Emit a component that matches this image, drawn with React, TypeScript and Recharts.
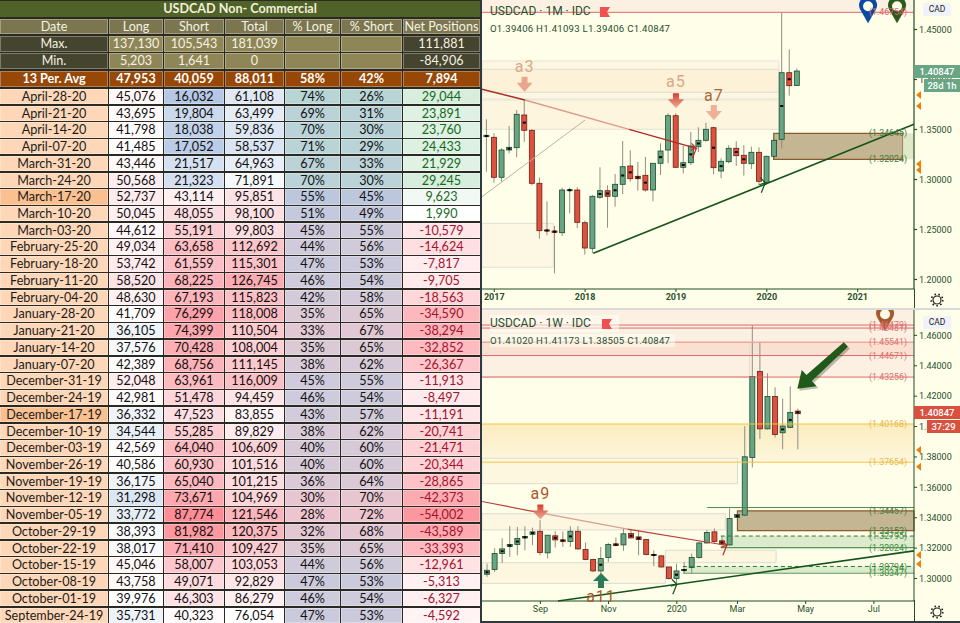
import React from 'react';
import { ComposedChart, Bar, XAxis, YAxis, ReferenceLine, ReferenceArea, ReferenceDot } from 'recharts';

// ---- COT table
const dates = ['April-28-20','April-21-20','April-14-20','April-07-20','March-31-20','March-24-20','March-17-20','March-10-20','March-03-20','February-25-20','February-18-20','February-11-20','February-04-20','January-28-20','January-21-20','January-14-20','January-07-20','December-31-19','December-24-19','December-17-19','December-10-19','December-03-19','November-26-19','November-19-19','November-12-19','November-05-19','October-29-19','October-22-19','October-15-19','October-08-19','October-01-19','September-24-19'];
const longs = [45076,43695,41798,41485,43446,50568,52737,50045,44612,49034,53742,58520,48630,41709,36105,37576,42389,52048,42981,36332,34544,42569,40586,36175,31298,33772,38393,38017,45046,43758,39976,35731];
const shorts = [16032,19804,18038,17052,21517,21323,43114,48055,55191,63658,61559,68225,67193,76299,74399,70428,68756,63961,51478,47523,55285,64040,60930,65040,73671,87774,81982,71410,58007,49071,46303,40323];
const totals = [61108,63499,59836,58537,64963,71891,95851,98100,99803,112692,115301,126745,115823,118008,110504,108004,111145,116009,94459,83855,89829,106609,101516,101215,104969,121546,120375,109427,103053,92829,86279,76054];
const pctLong = [74,69,70,71,67,70,55,51,45,44,47,46,42,35,33,35,38,45,46,43,38,40,40,36,30,28,32,35,44,47,46,47];
const pctShort = [26,31,30,29,33,30,45,49,55,56,53,54,58,65,67,65,62,55,54,57,62,60,60,64,70,72,68,65,56,53,54,53];
const netPositions = [29044,23891,23760,24433,21929,29245,9623,1990,-10579,-14624,-7817,-9705,-18563,-34590,-38294,-32852,-26367,-11913,-8497,-11191,-20741,-21471,-20344,-28865,-42373,-54002,-43589,-33393,-12961,-5313,-6327,-4592];
const headers = ['Date','Long','Short','Total','% Long','% Short','Net Positions'];
const maxRow = ['Max.','137,130','105,543','181,039','','','111,881'];
const minRow = ['Min.','5,203','1,641','0','','','-84,906'];
const avgRow = ['13 Per. Avg','47,953','40,059','88,011','58%','42%','7,894'];
const highlightedDates = ['March-17-20','December-17-19'];

// ---- monthly candles
const t1M = [-1,0,1,2,3,4,5,6,7,8,9,10,11,12,13,14,15,16,17,18,19,20,21,22,23,24,25,26,27,28,29,30,31,32,33,34,35,36,37,38,39,40];
const open1M = [1.3428,1.3422,1.3022,1.3295,1.3318,1.3645,1.3492,1.2962,1.2495,1.2485,1.2468,1.2888,1.2895,1.2568,1.2312,1.2822,1.2888,1.2832,1.2952,1.3135,1.3032,1.3042,1.2895,1.3162,1.3295,1.3638,1.3122,1.3168,1.3328,1.3392,1.3518,1.3085,1.3178,1.3312,1.3242,1.3158,1.3272,1.2972,1.3232,1.3402,1.4068,1.39406];
const high1M = [1.3602,1.3462,1.3312,1.3535,1.3695,1.3795,1.3502,1.3018,1.2782,1.2535,1.2918,1.2918,1.2922,1.2588,1.2845,1.3122,1.2942,1.3055,1.3385,1.3292,1.3175,1.3225,1.3162,1.3362,1.3662,1.3662,1.3335,1.3475,1.3522,1.3568,1.3528,1.3212,1.3342,1.3382,1.3345,1.3328,1.3322,1.3238,1.3462,1.4668,1.4302,1.41093];
const low1M = [1.3078,1.2968,1.2978,1.3262,1.3222,1.3378,1.2942,1.2408,1.2442,1.2062,1.2435,1.2662,1.2515,1.2248,1.2262,1.2808,1.2518,1.2728,1.2855,1.2978,1.2888,1.2878,1.2782,1.3045,1.3162,1.3122,1.3062,1.3145,1.3275,1.3378,1.3052,1.3012,1.3162,1.3135,1.3038,1.3105,1.2945,1.2945,1.3228,1.3308,1.3838,1.39406];
const close1M = [1.3442,1.3022,1.3295,1.3322,1.3652,1.3492,1.2962,1.2488,1.2485,1.2472,1.2895,1.2898,1.2572,1.2315,1.2832,1.2888,1.2832,1.2952,1.3128,1.3008,1.3008,1.2895,1.3162,1.3285,1.3638,1.3122,1.3168,1.3335,1.3392,1.3502,1.3118,1.3182,1.3312,1.3238,1.3162,1.3272,1.2982,1.3232,1.3392,1.4068,1.3938,1.40847];
const dotted1M = [-1,2,4,7,8,10,14,15,16,17,18,19,20,22,25,26,27,29,30,32,33,38,39];
const yearTicks = [0,12,24,36,48];
const yearLabels = ['2017','2018','2019','2020','2021'];
const yTicks1M = [1.2,1.25,1.3,1.35,1.4,1.45];

// ---- weekly candles
const k1W = [0,1,2,3,4,5,6,7,8,9,10,11,12,13,14,15,16,17,18,19,20,21,22,23,24,25,26,27,28,29,30,31,32,33,34,35,36,37,38,39,40,41];
const open1W = [1.3028,1.3059,1.3164,1.3210,1.3224,1.3267,1.3291,1.3311,1.3169,1.3281,1.3254,1.3243,1.3311,1.3191,1.3125,1.3050,1.3138,1.3228,1.3221,1.3296,1.3274,1.3256,1.3158,1.3149,1.3076,1.3000,1.3052,1.3072,1.3138,1.3234,1.3307,1.3248,1.3221,1.3401,1.3417,1.3796,1.4363,1.3985,1.4198,1.3959,1.3994,1.41020];
const high1W = [1.3098,1.3199,1.3265,1.3344,1.3340,1.3344,1.3335,1.3384,1.3285,1.3311,1.3309,1.3344,1.3344,1.3237,1.3131,1.3208,1.3234,1.3270,1.3329,1.3322,1.3318,1.3261,1.3186,1.3153,1.3076,1.3098,1.3109,1.3164,1.3241,1.3318,1.3329,1.3278,1.3461,1.3428,1.4003,1.4668,1.4558,1.4350,1.4258,1.4183,1.4264,1.41173];
const low1W = [1.3011,1.3043,1.3103,1.3142,1.3153,1.3186,1.3219,1.3153,1.3131,1.3204,1.3208,1.3208,1.3186,1.3120,1.3043,1.3032,1.3109,1.3212,1.3182,1.3263,1.3153,1.3153,1.3081,1.3072,1.2993,1.2967,1.3032,1.3032,1.3131,1.3230,1.3234,1.3219,1.3217,1.3401,1.3410,1.3731,1.3919,1.3981,1.3928,1.3851,1.3994,1.38505];
const close1W = [1.3054,1.3164,1.3195,1.3224,1.3263,1.3276,1.3307,1.3171,1.3285,1.3254,1.3245,1.3311,1.3195,1.3125,1.3050,1.3131,1.3224,1.3217,1.3294,1.3267,1.3256,1.3158,1.3151,1.3076,1.3000,1.3050,1.3059,1.3138,1.3234,1.3303,1.3243,1.3226,1.3395,1.3421,1.3801,1.4330,1.3985,1.4198,1.3948,1.4003,1.4093,1.40847];
const dotted1W = [0,2,3,4,5,6,9,10,11,15,17,19,20,22,25,26,31,33,39,40,41];
const weekTicks = [7,16,25,33,42,51];
const weekLabels = ['Sep','Nov','2020','Mar','May','Jul'];
const yTicks1W = [1.3,1.32,1.34,1.36,1.38,1.4,1.42,1.44,1.46];

// shared price levels
const orangeLevels = [1.3845,1.3735,1.3155,1.3095];
const redLevels1W = [1.46679,1.46481,1.45541,1.44671,1.43256];
const yellowLevels1W = [1.40168,1.37654];

const rows1M = t1M.map((t, i) => ({ t, open: open1M[i], close: close1M[i], high: high1M[i], low: low1M[i], range: [low1M[i], high1M[i]], dot: dotted1M.includes(t) }));
const rows1W = k1W.map((t, i) => ({ t, open: open1W[i], close: close1W[i], high: high1W[i], low: low1W[i], range: [low1W[i], high1W[i]], dot: dotted1W.includes(t) }));

const W = 960;
const H = 623;
const BG = '#fffee9';
const AXIS = '#1f4f22';
const TEXT = '#27502f';
const CHART_FONT = 'Roboto, sans-serif';
const TABLE_FONT = 'Lato, sans-serif';

const fmt = (v: number) => v.toLocaleString('en-US');

// excel style colour scale
const hex = (s: string) => [1, 3, 5].map((i) => parseInt(s.slice(i, i + 2), 16));
const scale = (stops: [number, string][], v: number) => {
  if (v <= stops[0][0]) return stops[0][1];
  for (let i = 1; i < stops.length; i++) {
    if (v <= stops[i][0]) {
      const f = (v - stops[i - 1][0]) / (stops[i][0] - stops[i - 1][0]);
      const a = hex(stops[i - 1][1]);
      const b = hex(stops[i][1]);
      return `rgb(${a.map((c, j) => Math.round(c + (b[j] - c) * f)).join(',')})`;
    }
  }
  return stops[stops.length - 1][1];
};
const longScale: [number, string][] = [[31000, '#dae5f3'], [40000, '#ffffff'], [46000, '#fff5f7'], [60000, '#fde0e4']];
const shortScale: [number, string][] = [[16000, '#b4c7e5'], [22000, '#d8e3f2'], [39000, '#ffffff'], [48000, '#fddde1'], [65000, '#fdb8bf'], [88000, '#fe8c94']];
const totalScale: [number, string][] = [[58000, '#d9e3f2'], [76000, '#ffffff'], [100000, '#fddde1'], [127000, '#fcaab1']];
const pctScale: [number, string][] = [[28, '#ecc5d0'], [35, '#dcc9d6'], [45, '#cfcbdc'], [55, '#bcc7de'], [67, '#bbd2d9'], [74, '#b8d5d6']];
const netScale: [number, string][] = [[-54000, '#fb989f'], [-30000, '#fdc0c5'], [-4500, '#fff3f4'], [2000, '#ffffff'], [10000, '#f1f9f3'], [29000, '#d7eedd']];

const colX = [0, 108, 163, 224, 284, 340, 402, 480];
const rowH = 16.73;
const rowTop = 87.9;

const Cell = ({ c, top, h, bg, color, bold, children }: any) => (
  <div style={{
    position: 'absolute', left: colX[c] + (c ? 1 : 0), top: top + 1, width: colX[c + 1] - colX[c] - (c ? 1 : 0), height: h - 1.4,
    background: bg, color, fontWeight: bold ? 700 : 400, textAlign: 'center', lineHeight: `${h - 1.4}px`,
    boxShadow: 'inset 0 0 0 1px rgba(255,255,255,0.3)', whiteSpace: 'nowrap', overflow: 'hidden',
  }}>{children}</div>
);

const Table = () => (
  <div style={{ position: 'absolute', left: 0, top: 0, width: 480, height: H, background: '#2a2a22', fontFamily: TABLE_FONT, fontSize: 12.6 }}>
    <div style={{ position: 'absolute', left: 0, top: 1, width: 480, height: 16, lineHeight: '16px', background: '#4f6228', color: '#f3efd8', fontWeight: 700, textAlign: 'center' }}>USDCAD Non- Commercial</div>
    {headers.map((s, c) => <Cell key={c} c={c} top={17.5} h={17} bg="#7b7650" color="#f5f2e0">{s}</Cell>)}
    {maxRow.map((s, c) => <Cell key={c} c={c} top={35} h={17.4} bg={c === 0 || c === 6 ? '#45442f' : '#8f8658'} color="#f5f2e0">{s}</Cell>)}
    {minRow.map((s, c) => <Cell key={c} c={c} top={52.4} h={17.4} bg={c === 0 || c === 6 ? '#45442f' : '#8f8658'} color="#f5f2e0">{s}</Cell>)}
    {avgRow.map((s, c) => <Cell key={c} c={c} top={70} h={17.4} bg="#974806" color="#fff" bold>{s}</Cell>)}
    {dates.map((d, i) => {
      const top = rowTop + i * rowH;
      return (
        <React.Fragment key={d}>
          <Cell c={0} top={top} h={rowH} bg={highlightedDates.includes(d) ? '#fbc08f' : '#fdd7b7'} color="#1c1c1c">{d}</Cell>
          <Cell c={1} top={top} h={rowH} bg={scale(longScale, longs[i])} color="#111">{fmt(longs[i])}</Cell>
          <Cell c={2} top={top} h={rowH} bg={scale(shortScale, shorts[i])} color="#111">{fmt(shorts[i])}</Cell>
          <Cell c={3} top={top} h={rowH} bg={scale(totalScale, totals[i])} color="#111">{fmt(totals[i])}</Cell>
          <Cell c={4} top={top} h={rowH} bg={scale(pctScale, pctLong[i])} color="#111">{pctLong[i]}%</Cell>
          <Cell c={5} top={top} h={rowH} bg={scale(pctScale, pctLong[i])} color="#111">{pctShort[i]}%</Cell>
          <Cell c={6} top={top} h={rowH} bg={scale(netScale, netPositions[i])} color={netPositions[i] > 0 ? '#17691f' : '#a3122c'}>{fmt(netPositions[i])}</Cell>
        </React.Fragment>
      );
    })}
  </div>
);

// ---- chart shapes
const candleShape = (p: any) => {
  const { x, y, width, height, payload } = p;
  const cx = x + width / 2;
  const py = (v: number) => y + ((payload.high - v) / (payload.high - payload.low)) * height;
  const up = payload.close >= payload.open;
  const top = py(Math.max(payload.open, payload.close));
  const bot = py(Math.min(payload.open, payload.close));
  return (
    <g>
      <line x1={cx} x2={cx} y1={y} y2={y + height} stroke="#8e8e86" strokeWidth={1} />
      <rect x={x} y={top} width={width} height={Math.max(bot - top, 1)} fill={up ? '#69a585' : '#db5340'} stroke={up ? '#174d2c' : '#6e1d10'} strokeWidth={0.8} />
      {payload.dot && <rect x={cx - 1.5} y={(top + bot) / 2 - 1} width={3} height={2} fill="#000" />}
    </g>
  );
};

const downArrow = (color: string, id?: string) => (p: any) => (
  <polygon points={`${p.cx - 3},${p.cy} ${p.cx + 3},${p.cy} ${p.cx + 3},${p.cy + 6} ${p.cx + 8},${p.cy + 6} ${p.cx},${p.cy + 15} ${p.cx - 8},${p.cy + 6} ${p.cx - 3},${p.cy + 6}`} fill={id ? `url(#${id})` : color} />
);
const upArrow = (color: string) => (p: any) => (
  <polygon points={`${p.cx},${p.cy} ${p.cx + 8},${p.cy + 8} ${p.cx + 3},${p.cy + 8} ${p.cx + 3},${p.cy + 15} ${p.cx - 3},${p.cy + 15} ${p.cx - 3},${p.cy + 8} ${p.cx - 8},${p.cy + 8}`} fill={color} />
);
const tag = (s: string, color: string, size = 16) => (p: any) => (
  <text x={p.cx} y={p.cy} dy="0.35em" textAnchor="middle" fill={color} fontSize={size} fontFamily={CHART_FONT} letterSpacing={1}>{s}</text>
);
const pin = (color: string) => (p: any) => (
  <g>
    <path d={`M${p.cx},${p.cy} L${p.cx - 8},${p.cy - 14} A9,9 0 1 1 ${p.cx + 8},${p.cy - 14} Z`} fill={color} />
    <circle cx={p.cx} cy={p.cy - 17} r={5} fill={BG} />
  </g>
);
const chevron = (color: string) => (p: any) => (
  <path d={`M${p.cx - 5},${p.cy - 5} L${p.cx},${p.cy} L${p.cx - 6},${p.cy + 2} M${p.cx},${p.cy} L${p.cx - 4},${p.cy + 10}`} stroke={color} strokeWidth={1.2} fill="none" />
);
const orangeMark = (p: any) => (
  <polygon points={`${p.cx + 2},${p.cy} ${p.cx + 7},${p.cy - 4} ${p.cx + 7},${p.cy + 4}`} fill="#f07f09" />
);
const bigArrow = (p: any) => {
  const { x: xa, y: ya } = p.x1 !== undefined ? { x: p.x1, y: p.y1 } : { x: 0, y: 0 };
  const dx = p.x2 - xa;
  const dy = p.y2 - ya;
  const len = Math.hypot(dx, dy);
  const ux = dx / len;
  const uy = dy / len;
  const nx = -uy;
  const ny = ux;
  const at = (a: number, b: number) => `${xa + ux * a + nx * b},${ya + uy * a + ny * b}`;
  const pts = [at(0, -3), at(len - 16, -4), at(len - 16, -11), at(len, 0), at(len - 16, 11), at(len - 16, 4), at(0, 3)].join(' ');
  return (
    <g>
      <polygon points={pts} fill="#000" opacity={0.25} transform="translate(2,2)" />
      <polygon points={pts} fill="#1f5a1a" />
    </g>
  );
};

const priceTick = (axis: any) => ({ tick: { fontSize: 9, fontFamily: CHART_FONT, fill: TEXT }, ...axis });

const levelLabel = (value: string, fill: string) => ({ value, position: 'insideRight' as const, fill, fontSize: 8.8, fontFamily: CHART_FONT, offset: 7 });

const Chart1M = () => {
  const tMax = 55.44;
  const tMin = -1.62;
  return (
    <ComposedChart width={478} height={310} data={rows1M} margin={{ top: 0, right: 0, bottom: 0, left: 0 }} barSize={5}>
      <defs>
        <linearGradient id="fade1" x1="0" y1="0" x2="0" y2="1">
          <stop offset="0%" stopColor="#d2402f" />
          <stop offset="100%" stopColor="#f0b098" />
        </linearGradient>
      </defs>
      <XAxis dataKey="t" type="number" domain={[tMin, tMax]} allowDataOverflow ticks={yearTicks} tickFormatter={(v: number) => yearLabels[yearTicks.indexOf(v)]} height={21} stroke={AXIS} tickSize={3} tick={{ fontSize: 9, fontWeight: 700, fontFamily: CHART_FONT, fill: TEXT }} interval={0} />
      <YAxis orientation="right" width={46} domain={[1.1905, 1.4795]} allowDataOverflow type="number" ticks={yTicks1M} tickFormatter={(v: number) => v.toFixed(5)} stroke={AXIS} tickSize={3} strokeWidth={1.2} interval={0} {...priceTick({})} />

      <ReferenceArea y1={1.4672} y2={1.4795} fill="#fbf0e2" fillOpacity={1} stroke="none" />
      <ReferenceArea x2={37.6} y1={1.3805} y2={1.4185} fill="#fdf6e0" fillOpacity={1} stroke="#e5e2d5" />
      <ReferenceArea x2={37.6} y1={1.3872} y2={1.4102} fill="#fdf2d8" fillOpacity={1} stroke="#e0ddd2" />
      <ReferenceArea x2={37.6} y1={1.3502} y2={1.3795} fill="#fdf5dd" fillOpacity={1} stroke="#e5e2d5" />
      <ReferenceArea x2={7.8} y1={1.2122} y2={1.2562} fill="#fdf8e4" fillOpacity={1} stroke="#e3e0d5" />
      <ReferenceArea x1={36.9} x2={54} y1={1.3202} y2={1.3462} fill="#c4b693" fillOpacity={1} stroke="#8b5a2b" strokeWidth={1.2} />
      <ReferenceArea x1={54} x2={tMax} y1={1.3202} y2={1.3462} fill="#dfe8c8" fillOpacity={1} stroke="none" />

      <ReferenceLine y={1.4672} stroke="#dd6a6a" label={levelLabel('(1.46754)', '#e06a6a')} />
      <ReferenceLine y={1.3462} segment={[{ x: 54, y: 1.3462 }, { x: tMax, y: 1.3462 }]} stroke="none" label={levelLabel('(1.34645)', '#3e7a3e')} />
      <ReferenceLine y={1.3202} segment={[{ x: 54, y: 1.3202 }, { x: tMax, y: 1.3202 }]} stroke="none" label={levelLabel('(1.32024)', '#3e7a3e')} />

      <Bar dataKey="range" shape={candleShape} isAnimationActive={false} />

      <ReferenceLine segment={[{ x: tMin, y: 1.2828 }, { x: 12, y: 1.3595 }]} stroke="#b8b4a6" />
      <ReferenceLine segment={[{ x: tMin, y: 1.3902 }, { x: 4.05, y: 1.3795 }]} stroke="#a82a22" strokeWidth={1.4} />
      <ReferenceLine segment={[{ x: 4.05, y: 1.3795 }, { x: 17.8, y: 1.3502 }]} stroke="#e09a8c" strokeWidth={1.4} />
      <ReferenceLine segment={[{ x: 17.8, y: 1.3502 }, { x: 26.7, y: 1.3312 }]} stroke="#b02a22" strokeWidth={1.4} />
      <ReferenceLine segment={[{ x: 13.08, y: 1.2262 }, { x: tMax, y: 1.3552 }]} stroke="#14531a" strokeWidth={1.6} />

      <ReferenceDot x={4} y={1.4135} ifOverflow="visible" shape={tag('a3', '#d8a988')} />
      <ReferenceDot x={4} y={1.4028} ifOverflow="visible" shape={downArrow('#e9a68d')} />
      <ReferenceDot x={24} y={1.3978} ifOverflow="visible" shape={tag('a5', '#d8a988')} />
      <ReferenceDot x={24} y={1.3862} ifOverflow="visible" shape={downArrow('#d2402f', 'fade1')} />
      <ReferenceDot x={29} y={1.3845} ifOverflow="visible" shape={tag('a7', '#a86a3a')} />
      <ReferenceDot x={29} y={1.3745} ifOverflow="visible" shape={downArrow('#eeb096')} />
      <ReferenceDot x={26.7} y={1.3312} ifOverflow="visible" shape={chevron('#c02a2a')} />
      <ReferenceDot x={35.8} y={1.2968} ifOverflow="visible" shape={chevron('#14531a')} />
      <ReferenceDot x={49.37} y={1.4562} ifOverflow="visible" shape={pin('#0b4aa2')} />
      <ReferenceDot x={53.2} y={1.4562} ifOverflow="visible" shape={pin('#2a5a1c')} />
      {orangeLevels.map((v) => <ReferenceDot key={v} x={tMax} y={v} ifOverflow="visible" shape={orangeMark} />)}
    </ComposedChart>
  );
};

const Chart1W = () => {
  const kMax = 56.29;
  const kMin = -0.7;
  return (
    <ComposedChart width={478} height={313} data={rows1W} margin={{ top: 0, right: 0, bottom: 0, left: 0 }} barSize={5}>
      <defs>
        <linearGradient id="fade2" x1="0" y1="0" x2="0" y2="1">
          <stop offset="0%" stopColor="#d2402f" />
          <stop offset="100%" stopColor="#f0b098" />
        </linearGradient>
        <linearGradient id="yellowZone" x1="0" y1="0" x2="0" y2="1">
          <stop offset="0%" stopColor="#fcecc0" />
          <stop offset="100%" stopColor="#fdf7dc" />
        </linearGradient>
      </defs>
      <XAxis dataKey="t" type="number" domain={[kMin, kMax]} allowDataOverflow ticks={weekTicks} tickFormatter={(v: number) => weekLabels[weekTicks.indexOf(v)]} height={22} stroke={AXIS} tickSize={3} tick={{ fontSize: 9, fontFamily: CHART_FONT, fill: TEXT }} interval={0} />
      <YAxis orientation="right" width={46} domain={[1.2852, 1.4767]} allowDataOverflow type="number" ticks={yTicks1W} tickFormatter={(v: number) => v.toFixed(5)} stroke={AXIS} tickSize={3} interval={0} {...priceTick({})} />

      <ReferenceArea y1={1.4328} y2={1.4767} fill="#fcf0e2" fillOpacity={1} stroke="none" />
      <ReferenceArea y1={1.44671} y2={1.45541} fill="#fae0d0" fillOpacity={1} stroke="none" />
      <ReferenceArea x1={kMin} x2={34.6} y1={1.4328} y2={1.4555} fill="none" stroke="#e8dcd0" />
      <ReferenceArea y1={1.37654} y2={1.40168} fill="url(#yellowZone)" fillOpacity={1} stroke="none" />
      <ReferenceArea x2={33} y1={1.3624} y2={1.3792} fill="#fdf7e0" fillOpacity={1} stroke="#dedbd0" />
      <ReferenceArea x2={31.4} y1={1.3320} y2={1.3426} fill="#fdf6e0" fillOpacity={1} stroke="#dedbd0" />
      <ReferenceArea x1={kMin} x2={23.5} y1={1.2968} y2={1.3104} fill="#fdf7e0" fillOpacity={1} stroke="#dedbd0" />
      <ReferenceArea x1={23.5} x2={38.1} y1={1.3104} y2={1.3186} fill="#fdf7e0" fillOpacity={1} stroke="#dedbd0" />
      <ReferenceArea x1={33} x2={kMax} y1={1.33153} y2={1.34457} fill="#c4b693" fillOpacity={1} stroke="#8b5a2b" strokeWidth={1.2} />
      <ReferenceArea x1={30.8} x2={kMax} y1={1.32024} y2={1.32795} fill="#dcebcb" fillOpacity={1} stroke="none" />
      <ReferenceArea x1={25.8} x2={kMax} y1={1.30347} y2={1.30794} fill="#dcebcb" fillOpacity={1} stroke="none" />

      {redLevels1W.map((v, i) => <ReferenceLine key={v} y={v} stroke={i === 2 ? '#eda9a0' : '#d96a6a'} strokeWidth={i === 2 ? 1.5 : 1} label={levelLabel(`(${v === 1.46679 ? '1.46479' : v.toFixed(5)})`, '#dc7070')} />)}
      {yellowLevels1W.map((v) => <ReferenceLine key={v} y={v} stroke="#f5c443" label={levelLabel(`(${v.toFixed(5)})`, '#e8b84f')} />)}
      <ReferenceLine segment={[{ x: 29, y: 1.3467 }, { x: kMax, y: 1.3467 }]} stroke="#4f8a4f" />
      <ReferenceLine y={1.34457} stroke="none" label={levelLabel('(1.34457)', '#3e7a3e')} />
      <ReferenceLine y={1.33153} stroke="none" label={levelLabel('(1.33153)', '#3e7a3e')} />
      <ReferenceLine segment={[{ x: 30.8, y: 1.32795 }, { x: kMax, y: 1.32795 }]} stroke="#2b7a30" strokeDasharray="4 3" />
      <ReferenceLine y={1.32795} stroke="none" label={levelLabel('(1.32795)', '#3e8a3e')} />
      <ReferenceLine segment={[{ x: 30.8, y: 1.32024 }, { x: kMax, y: 1.32024 }]} stroke="#2b7a30" />
      <ReferenceLine y={1.32024} stroke="none" label={levelLabel('(1.32024)', '#3e8a3e')} />
      <ReferenceLine segment={[{ x: 25.8, y: 1.30794 }, { x: kMax, y: 1.30794 }]} stroke="#2b7a30" strokeDasharray="4 3" />
      <ReferenceLine y={1.30794} stroke="none" label={levelLabel('(1.30794)', '#3e8a3e')} />
      <ReferenceLine segment={[{ x: 25.8, y: 1.30347 }, { x: kMax, y: 1.30347 }]} stroke="#5f9a5f" />
      <ReferenceLine y={1.30347} stroke="none" label={levelLabel('(1.30347)', '#3e8a3e')} />

      <Bar dataKey="range" shape={candleShape} isAnimationActive={false} />

      <ReferenceLine segment={[{ x: kMin, y: 1.3507 }, { x: 7, y: 1.3432 }]} stroke="#b8403a" strokeWidth={1.2} />
      <ReferenceLine segment={[{ x: 7, y: 1.3432 }, { x: 18.5, y: 1.3325 }]} stroke="#d9a090" strokeWidth={1.2} />
      <ReferenceLine segment={[{ x: 18.5, y: 1.3325 }, { x: 31.5, y: 1.3219 }]} stroke="#b8403a" strokeWidth={1.2} />
      <ReferenceLine segment={[{ x: 9.33, y: 1.2852 }, { x: kMax, y: 1.3182 }]} stroke="#14531a" strokeWidth={1.6} />
      <ReferenceLine segment={[{ x: 47.3, y: 1.4540 }, { x: 40.9, y: 1.4248 }]} shape={bigArrow} ifOverflow="visible" />

      <ReferenceDot x={7} y={1.3559} ifOverflow="visible" shape={tag('a9', '#a9582a')} />
      <ReferenceDot x={7} y={1.3487} ifOverflow="visible" shape={downArrow('#d2402f', 'fade2')} />
      <ReferenceDot x={15} y={1.2879} ifOverflow="visible" shape={tag('a11', '#a9582a')} />
      <ReferenceDot x={15} y={1.3037} ifOverflow="visible" shape={upArrow('#2c7a5a')} />
      <ReferenceDot x={25} y={1.2962} ifOverflow="visible" shape={chevron('#14531a')} />
      <ReferenceDot x={31.6} y={1.3219} ifOverflow="visible" shape={chevron('#c02a2a')} />
      <ReferenceDot x={52.47} y={1.4627} ifOverflow="visible" shape={pin('#a35a30')} />
      {orangeLevels.map((v) => <ReferenceDot key={v} x={kMax} y={v} ifOverflow="visible" shape={orangeMark} />)}
    </ComposedChart>
  );
};

const Flag = ({ x, y }: any) => (
  <svg style={{ position: 'absolute', left: x, top: y }} width={10} height={10}>
    <polygon points="0,0 10,0 7,5 10,10 0,10" fill="#f25050" />
  </svg>
);

const Gear = ({ y }: any) => (
  <svg style={{ position: 'absolute', left: 930, top: y }} width={14} height={14}>
    <circle cx={7} cy={7} r={4} fill="none" stroke="#222" strokeWidth={1.2} />
    <circle cx={7} cy={7} r={5.8} fill="none" stroke="#222" strokeWidth={1.6} strokeDasharray="1.6 2.4" />
  </svg>
);

const priceBox = (x: number, y: number, w: number, h: number, bg: string, s: string) => (
  <div style={{ position: 'absolute', left: x, top: y, width: w, height: h, lineHeight: `${h}px`, background: bg, color: '#fff', fontFamily: CHART_FONT, fontSize: 9.5, fontWeight: 500, textAlign: 'center' }}>{s}</div>
);

const title = (y: number, s: string, sub: string, boxed: boolean) => (
  <>
    <div style={{ position: 'absolute', left: 490, top: y, height: 17, lineHeight: '17px', padding: '0 28px 0 0', background: boxed ? 'rgba(255,255,245,0.55)' : 'transparent', color: TEXT, fontFamily: CHART_FONT, fontSize: 12, whiteSpace: 'nowrap' }}>{s}</div>
    <div style={{ position: 'absolute', left: 490, top: y + 19, height: 13, lineHeight: '13px', padding: '0 5px 0 0', background: boxed ? 'rgba(255,255,245,0.55)' : 'transparent', color: TEXT, fontFamily: CHART_FONT, fontSize: 9.6, letterSpacing: 0.25, whiteSpace: 'nowrap' }}>{sub}</div>
  </>
);

const chip = (y: number) => (
  <div style={{ position: 'absolute', left: 923, top: y, width: 28, height: 13, lineHeight: '13px', background: '#f1f3fa', color: '#222', fontFamily: CHART_FONT, fontSize: 8.5, textAlign: 'center' }}>CAD</div>
);

export default function App() {
  return (
    <div style={{ position: 'absolute', left: 0, top: 0, width: W, height: H, overflow: 'hidden', background: BG }}>
      <Table />
      <div style={{ position: 'absolute', left: 480, top: 0, width: 2, height: H, background: '#2d3a40' }} />
      <div style={{ position: 'absolute', left: 482, top: 0 }}><Chart1M /></div>
      <div style={{ position: 'absolute', left: 482, top: 310 }}><Chart1W /></div>
      <div style={{ position: 'absolute', left: 482, top: 308, width: 478, height: 2, background: '#d8dadc' }} />
      <div style={{ position: 'absolute', left: 914, top: 289, width: 1, height: 19, background: AXIS }} />
      <div style={{ position: 'absolute', left: 914, top: 600, width: 1, height: 21, background: AXIS }} />
      <div style={{ position: 'absolute', left: 482, top: 621, width: 478, height: 2, background: '#2d3a40' }} />

      {title(3, 'USDCAD · 1M · IDC', 'O1.39406  H1.41093  L1.39406  C1.40847', false)}
      <Flag x={600} y={7} />
      {title(315, 'USDCAD · 1W · IDC', 'O1.41020  H1.41173  L1.38505  C1.40847', true)}
      <Flag x={602} y={319} />

      {chip(3)}
      {chip(316)}
      {priceBox(914, 65, 46, 13, '#6aa585', '1.40847')}
      {priceBox(924, 79, 36, 13, '#6aa585', '28d 1h')}
      {priceBox(914, 406, 46, 13, '#d9503f', '1.40847')}
      {priceBox(927, 420, 33, 13, '#d9503f', '37:29')}
      <Gear y={293} />
      <Gear y={605} />
    </div>
  );
}
